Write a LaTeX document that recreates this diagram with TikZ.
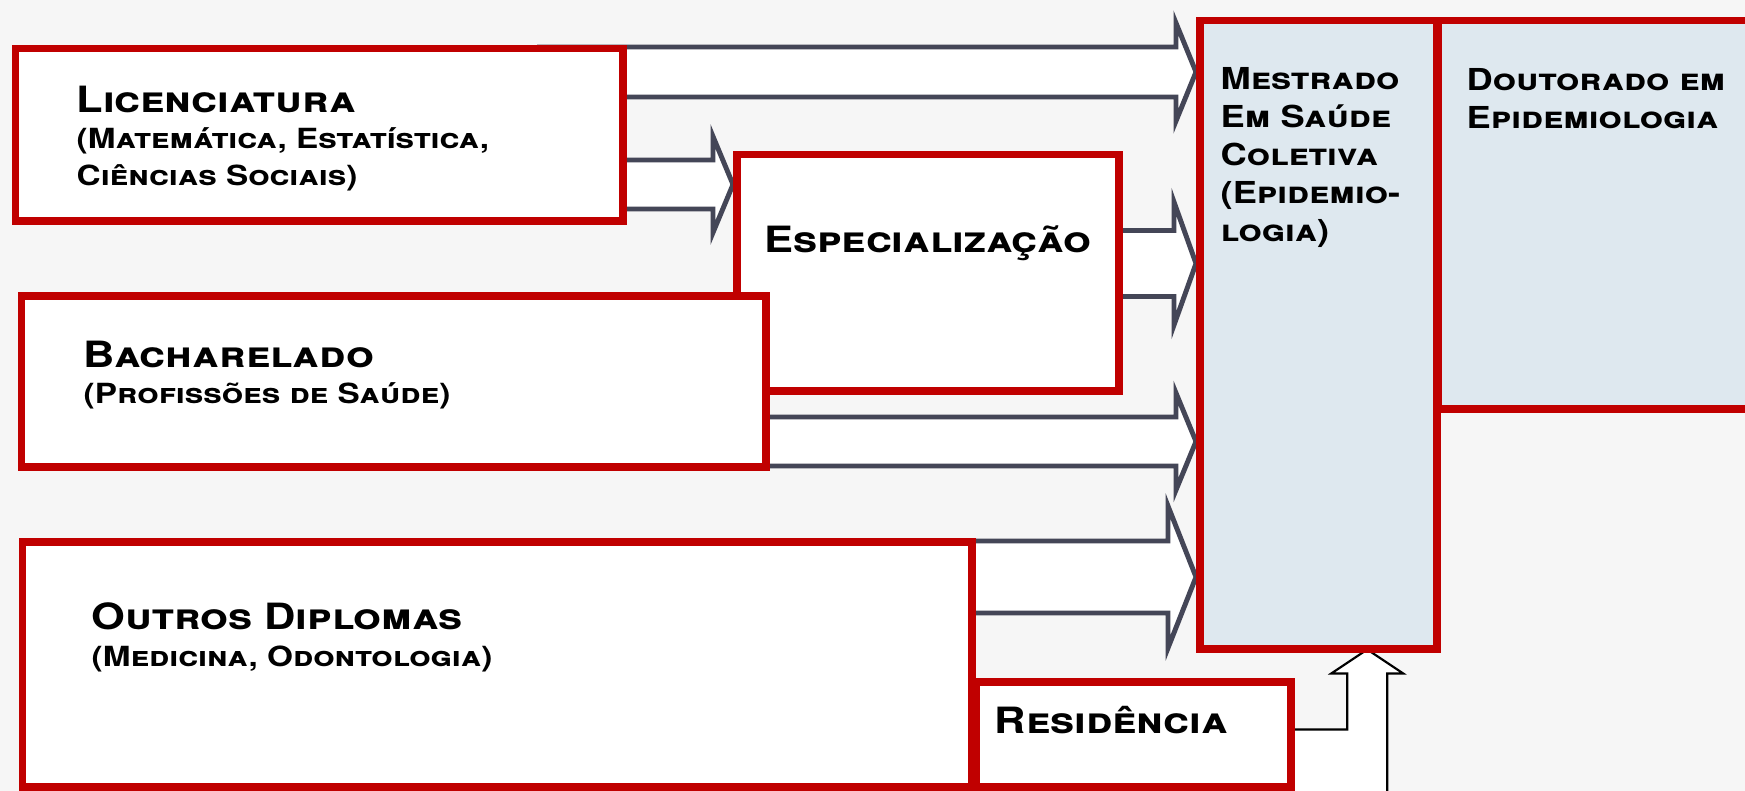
\documentclass[tikz,border=0pt]{standalone}
\usepackage{fontspec}
\setmainfont[FakeStretch=1.2]{TeX Gyre Heros}
\usetikzlibrary{calc}
\definecolor{BoxRed}{HTML}{C00000}
\definecolor{ArrowGray}{HTML}{444657}
\definecolor{PaleBlue}{HTML}{DEE8EF}
\definecolor{PageGray}{HTML}{F6F6F6}
\pgfdeclarelayer{back}
\pgfdeclarelayer{arrows}
\pgfsetlayers{back,arrows,main}
\newcommand{\subsize}{\fontsize{7.9}{10.4}\selectfont}

\begin{document}
\begin{tikzpicture}[
        box/.style={
            rectangle, draw=BoxRed, line width=0.075cm, fill=white,
            inner sep=0pt, anchor=north west
        },
        course/.style={box, fill=PaleBlue},
        title/.style={anchor=north west, inner sep=0pt, align=left,
            font=\fontsize{10.3}{10.4}\selectfont\bfseries\scshape},
        degree/.style={title, font=\fontsize{8.6}{10.8}\selectfont\bfseries\scshape},
        fat/.style={draw=ArrowGray, line width=1.4pt, fill=white, line join=miter},
        hollow/.style={draw=black, line width=0.6pt, fill=white}
    ]

    \useasboundingbox (0,0) rectangle (17.45,-7.91);
    \begin{pgfonlayer}{back}
        \fill[PageGray] (0,0) rectangle (17.45,-7.91);
    \end{pgfonlayer}

    % Boxes
    \node (lic) [box, minimum width=6.07cm, minimum height=1.72cm] at (0.12,-0.45) {};
    \node (esp) [box, minimum width=3.82cm, minimum height=2.36cm] at (7.33,-1.51) {};
    \node (bach) [box, minimum width=7.44cm, minimum height=1.71cm] at (0.18,-2.92) {};
    \node (outros) [box, minimum width=9.49cm, minimum height=2.45cm] at (0.19,-5.38) {};
    \node (res) [box, minimum width=3.15cm, minimum height=1.05cm] at (9.72,-6.78) {};
    \node (mest) [course, minimum width=2.37cm, minimum height=6.28cm] at (11.96,-0.17) {};
    \node (dout) [course, minimum width=3.20cm, minimum height=3.88cm] at (14.34,-0.17) {};

    % Texts
    \node (licT) [title] at ($(lic.north west)+(0.64,-0.40)$) {
        Licenciatura\\
        {\subsize (Matemática, Estatística,}\\
        {\subsize Ciências Sociais)}
    };
    \node (espT) [title, anchor=base] at ($(esp.north)+(0,-1.02)$) {Especialização};
    \node (bachT) [title] at ($(bach.north west)+(0.65,-0.48)$) {
        Bacharelado\\
        {\subsize (Profissões de Saúde)}
    };
    \node (outrosT) [title] at ($(outros.north west)+(0.72,-0.64)$) {
        Outros Diplomas\\
        {\subsize (Medicina, Odontologia)}
    };
    \node (resT) [title, anchor=base west] at ($(res.north west)+(0.22,-0.55)$) {Residência};
    \node (mestT) [degree] at ($(mest.north west)+(0.24,-0.50)$) {
        Mestrado\\Em Saúde\\Coletiva\\(Epidemio-\\logia)
    };
    \node (doutT) [degree] at ($(dout.north west)+(0.32,-0.51)$) {
        Doutorado em\\Epidemiologia
    };

    % Arrow tips
    \coordinate (t1) at (mest.west |- 0,-0.72);
    \coordinate (t2) at (esp.west |- 0,-1.845);
    \coordinate (t3) at (mest.west |- 0,-2.635);
    \coordinate (t4) at (mest.west |- 0,-4.415);
    \coordinate (t5) at (mest.west |- 0,-5.77);
    \coordinate (t6) at ($(mest.south)+(0.49,0.03)$);
    \coordinate (bend) at ($(t6)+(-0.2,-0.8)$);
    \coordinate (foot) at ($(t6)+(0.2,-1.7)$);

    % Arrows
    \begin{pgfonlayer}{arrows}
        \foreach \from/\dx/\tip/\s/\h/\l in {
            lic/-0.87/t1/0.25/0.49/0.20,
            lic/-0.02/t2/0.245/0.48/0.20,
            esp/-0.3/t3/0.33/0.615/0.22,
            bach/-0.02/t4/0.245/0.485/0.20,
            outros/-0.02/t5/0.36/0.71/0.28} {
            \draw[fat] ($(\from.east |- \tip)+(\dx,\s)$) -- ($(\tip)+(-\l,\s)$)
                -- ($(\tip)+(-\l,\h)$) -- (\tip) -- ($(\tip)+(-\l,-\h)$)
                -- ($(\tip)+(-\l,-\s)$) -- ($(\from.east |- \tip)+(\dx,-\s)$) -- cycle;
        }
        \draw[hollow] ($(res.east |- bend)+(-0.3,0)$) -- (bend)
            -- ($(t6)+(-0.2,-0.24)$) -- ($(t6)+(-0.36,-0.24)$) -- (t6)
            -- ($(t6)+(0.36,-0.24)$) -- ($(t6)+(0.2,-0.24)$) -- (foot)
            -- ($(res.east |- foot)+(-0.3,0)$) -- cycle;
    \end{pgfonlayer}

\end{tikzpicture}
\end{document}
